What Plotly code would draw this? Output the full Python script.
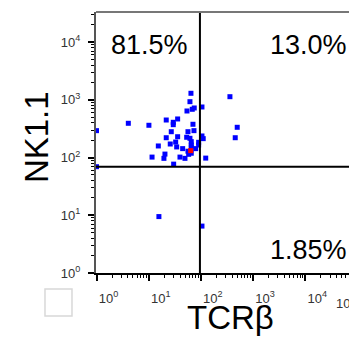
import plotly.graph_objects as go

# Flow cytometry events: TCRβ (x) vs NK1.1 (y)
tcrb = [64.6, 61.8, 54.2, 68.4, 74.7, 105, 21.7, 35.9, 29.6, 29.6,
        10.1, 70.6, 27.1, 56.6, 73.8, 21.7, 35.9, 53.5, 61.8, 105,
        111, 32.9, 25.9, 65.5, 90.7, 15.3, 34.4, 65.5, 65.5, 90.7,
        44.8, 56.6, 79.5, 65.5, 20.5, 19.6, 11.6, 39.8, 49.6, 58.4,
        124, 30.1, 361, 498, 456, 4.07, 1.0, 1.0, 15.7, 105]
nk11 = [1301, 931, 642, 687, 724, 753, 448, 467, 409, 372,
        363, 378, 281, 281, 293, 221, 230, 225, 216, 237,
        213, 186, 172, 189, 184, 159, 153, 165, 153, 165,
        143, 129, 143, 119, 115, 97, 102, 102, 97, 114,
        98, 77, 1136, 335, 221, 393, 293, 69.5, 9.5, 6.5]

# highlighted event
hi_tcrb = [63.8]
hi_nk11 = [132]

# gate thresholds
gate_x = 96
gate_y = 69.5

# quadrant frequencies
q_labels = ["81.5%", "13.0%", "1.85%"]

# axis decades
x_decades = [0, 1, 2, 3, 4]
y_decades = [0, 1, 2, 3, 4]

font_family = "Liberation Sans, Arial, Helvetica, sans-serif"
tick_col = "#333333"


def decade_text(d):
    return f"10<sup>{d}</sup>"


def minor_vals(decades, extra):
    vals = []
    for d in list(decades) + [extra]:
        for m in range(2, 10):
            vals.append(m * 10 ** d)
    return vals


fig = go.Figure()
fig.add_trace(go.Scatter(
    x=tcrb, y=nk11, mode="markers",
    marker=dict(symbol="square", size=5, color="#0000ff", line=dict(width=0)),
    showlegend=False,
))
fig.add_trace(go.Scatter(
    x=hi_tcrb, y=hi_nk11, mode="markers",
    marker=dict(symbol="square", size=5, color="#ff0000", line=dict(width=0)),
    showlegend=False,
))

# gate lines
fig.add_shape(type="line", xref="x", yref="paper",
              x0=gate_x, x1=gate_x, y0=0, y1=1,
              line=dict(color="black", width=2))
fig.add_shape(type="line", xref="paper", yref="y",
              x0=0, x1=1, y0=gate_y, y1=gate_y,
              line=dict(color="black", width=2))
# top frame
fig.add_shape(type="line", xref="paper", yref="paper",
              x0=0, x1=1, y0=1, y1=1,
              line=dict(color="#777777", width=2))
# empty box at lower left
fig.add_shape(type="rect", xref="paper", yref="paper",
              x0=-0.2016, x1=-0.0949, y0=-0.1648, y1=-0.0613,
              line=dict(color="#d8d8d8", width=1.5), fillcolor="white")

pct_font = dict(family=font_family, size=27, color="black")
fig.add_annotation(x=0.213, y=0.874, xref="paper", yref="paper",
                   xanchor="center", yanchor="middle",
                   text=q_labels[0], showarrow=False, font=pct_font)
fig.add_annotation(x=1.0, y=0.874, xref="paper", yref="paper",
                   xanchor="right", yanchor="middle",
                   text=q_labels[1], showarrow=False, font=pct_font)
fig.add_annotation(x=1.0, y=0.088, xref="paper", yref="paper",
                   xanchor="right", yanchor="middle",
                   text=q_labels[2], showarrow=False, font=pct_font)

# axis titles
title_font = dict(family=font_family, size=33, color="black")
fig.add_annotation(x=-0.235, y=0.519, xref="paper", yref="paper",
                   xanchor="center", yanchor="middle",
                   text="NK1.1", textangle=-90, showarrow=False, font=title_font)
fig.add_annotation(x=0.53, y=-0.172, xref="paper", yref="paper",
                   xanchor="center", yanchor="middle",
                   text="TCRβ", showarrow=False, font=title_font)

# next decade label, cut at the right edge
fig.add_annotation(x=0.9407, y=-0.075, xref="paper", yref="paper",
                   xanchor="left", yanchor="top",
                   text=decade_text(x_decades[-1] + 1), showarrow=False,
                   font=dict(family=font_family, size=13, color=tick_col))

fig.update_xaxes(
    type="log", range=[-0.01, 4.84], showgrid=False, zeroline=False,
    showline=True, linecolor="black", linewidth=2,
    tickmode="array", tickvals=[10 ** d for d in x_decades],
    ticktext=[decade_text(d) for d in x_decades],
    ticks="outside", ticklen=6, tickwidth=2, tickcolor="black",
    ticklabelshift=12, ticklabelstandoff=6,
    tickfont=dict(family=font_family, size=13, color=tick_col),
    minor=dict(tickvals=minor_vals(x_decades, 5), ticks="outside",
               ticklen=3, tickwidth=1, tickcolor="black"),
    automargin=False,
)
fig.update_yaxes(
    type="log", range=[0, 4.523], showgrid=False, zeroline=False,
    showline=True, linecolor="#555555", linewidth=2,
    tickmode="array", tickvals=[10 ** d for d in y_decades],
    ticktext=[decade_text(d) for d in y_decades],
    ticks="outside", ticklen=6, tickwidth=2, tickcolor="black",
    ticklabelstandoff=5,
    tickfont=dict(family=font_family, size=13, color=tick_col),
    minor=dict(tickvals=minor_vals(y_decades, 5), ticks="outside",
               ticklen=3, tickwidth=1, tickcolor="black"),
    automargin=False,
)

fig.update_layout(
    width=349, height=337,
    margin=dict(l=96, r=0, t=12, b=64, pad=0),
    plot_bgcolor="white", paper_bgcolor="white",
    font=dict(family=font_family),
)

fig.write_html("out.html")
